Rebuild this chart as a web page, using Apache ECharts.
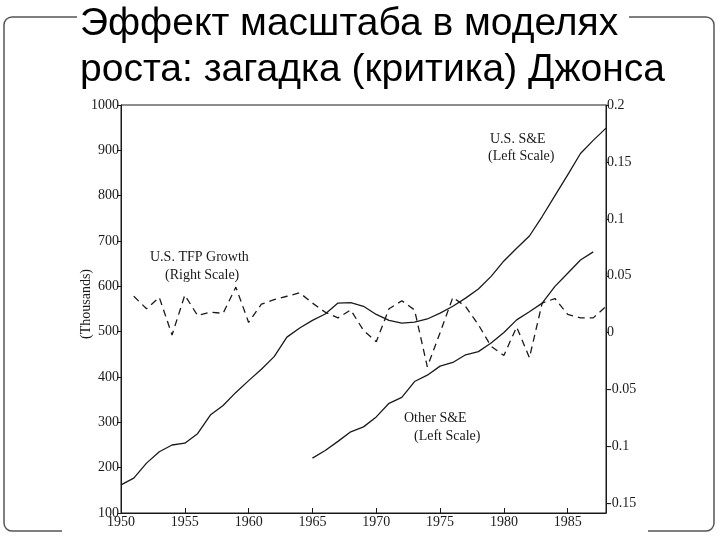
<!DOCTYPE html>
<html>
<head>
<meta charset="utf-8">
<script src="https://cdn.jsdelivr.net/npm/echarts@6/dist/echarts.min.js"></script>
<style>html,body{margin:0;padding:0;background:#fff}#c{width:720px;height:540px}</style>
</head>
<body>
<div id="c"></div>
<script>
// ---- data ----
var usYears = [1950,1951,1952,1953,1954,1955,1956,1957,1958,1959,1960,1961,1962,1963,1964,1965,1966,1967,1968,1969,1970,1971,1972,1973,1974,1975,1976,1977,1978,1979,1980,1981,1982,1983,1984,1985,1986,1987,1988];
var usSE = [162,177,210,235,250,254,275,316,337,366,392,417,445,488,508,525,539,563,564,556,538,525,519,521,528,541,556,574,594,622,656,684,711,754,800,846,893,922,949];
var otherYears = [1965,1966,1967,1968,1969,1970,1971,1972,1973,1974,1975,1976,1977,1978,1979,1980,1981,1982,1983,1984,1985,1986,1987];
var otherSE = [221,238,258,279,290,312,342,355,390,404,424,432,449,456,475,498,526,544,563,600,629,658,676];
var tfpYears = [1951,1952,1953,1954,1955,1956,1957,1958,1959,1960,1961,1962,1963,1964,1965,1966,1967,1968,1969,1970,1971,1972,1973,1974,1975,1976,1977,1978,1979,1980,1981,1982,1983,1984,1985,1986,1987,1988];
var tfpGrowth = [0.032,0.021,0.031,-0.002,0.033,0.015,0.018,0.017,0.040,0.009,0.025,0.029,0.032,0.035,0.026,0.018,0.013,0.020,0.002,-0.008,0.021,0.028,0.020,-0.030,0.000,0.031,0.023,0.007,-0.012,-0.020,0.005,-0.022,0.026,0.030,0.016,0.013,0.013,0.023];
var xTicks = [1950,1955,1960,1965,1970,1975,1980,1985];
var rightTicks = [-0.15,-0.1,-0.05,0,0.05,0.1,0.15,0.2];
var titleLines = ['Эффект масштаба в моделях', 'роста: загадка (критика) Джонса'];

function pairs(xs, ys){ return xs.map(function(x,i){ return [x, ys[i]]; }); }

var serif = 'Liberation Serif';
var ink = '#1a1a1a';
var chart = echarts.init(document.getElementById('c'), null, {renderer:'canvas'});
chart.setOption({
  backgroundColor: '#fff',
  animation: false,
  grid: {left:121, right:114, top:105, bottom:27, show:true, borderColor:ink, borderWidth:1, backgroundColor:'transparent'},
  xAxis: {
    type:'value', min:1950, max:1988,
    axisLine:{show:true, onZero:false, lineStyle:{color:ink, width:1}},
    axisTick:{show:true, inside:true, length:5, customValues:xTicks, lineStyle:{color:ink}},
    axisLabel:{customValues:xTicks, margin:2, fontFamily:serif, fontSize:14, color:ink,
      formatter:function(v){ return String(v); }},
    splitLine:{show:false}
  },
  yAxis: [{
    type:'value', min:100, max:1000, interval:100, position:'left',
    axisLine:{show:true, onZero:false, lineStyle:{color:ink, width:1}},
    axisTick:{show:true, length:4, lineStyle:{color:ink}},
    axisLabel:{margin:2, fontFamily:serif, fontSize:14, color:ink,
      formatter:function(v){ return String(v); }},
    splitLine:{show:false}
  },{
    type:'value', min:-0.1584, max:0.2, position:'right',
    axisLine:{show:true, onZero:false, lineStyle:{color:ink, width:1}},
    axisTick:{show:true, length:3, customValues:rightTicks, lineStyle:{color:ink}},
    axisLabel:{customValues:rightTicks, margin:1, fontFamily:serif, fontSize:14, color:ink,
      formatter:function(v){ return String(Math.round(v*100)/100); }},
    splitLine:{show:false}
  }],
  series: [
    {name:'U.S. S&E', type:'line', xAxisIndex:0, yAxisIndex:0, data:pairs(usYears, usSE), symbol:'none',
     lineStyle:{color:ink, width:1.3}, z:3},
    {name:'Other S&E', type:'line', xAxisIndex:0, yAxisIndex:0, data:pairs(otherYears, otherSE), symbol:'none',
     lineStyle:{color:ink, width:1.3}, z:3},
    {name:'U.S. TFP Growth', type:'line', xAxisIndex:0, yAxisIndex:1, data:pairs(tfpYears, tfpGrowth), symbol:'none',
     lineStyle:{color:ink, width:1.3, type:[7,5]}, z:2}
  ],
  graphic: [
    {type:'rect', z:-10, shape:{x:4, y:17, width:710, height:514, r:8}, style:{fill:'none', stroke:'#555', lineWidth:1.5}, silent:true},
    {type:'rect', z:-9, shape:{x:77, y:10, width:552, height:14}, style:{fill:'#fff'}, silent:true},
    {type:'rect', z:-9, shape:{x:62, y:524, width:586, height:14}, style:{fill:'#fff'}, silent:true},
    {type:'text', z:10, left:80, top:1, style:{text:titleLines.join('\n'), font:'39px "Liberation Sans"', fill:'#000', lineHeight:46}},
    {type:'text', z:10, style:{x:490, y:132, text:'U.S. S&E', font:'14px "Liberation Serif"', fill:ink}},
    {type:'text', z:10, style:{x:488, y:149, text:'(Left Scale)', font:'14px "Liberation Serif"', fill:ink}},
    {type:'text', z:10, style:{x:150, y:250, text:'U.S. TFP Growth', font:'14px "Liberation Serif"', fill:ink}},
    {type:'text', z:10, style:{x:165, y:268, text:'(Right Scale)', font:'14px "Liberation Serif"', fill:ink}},
    {type:'text', z:10, style:{x:404, y:411, text:'Other S&E', font:'14px "Liberation Serif"', fill:ink}},
    {type:'text', z:10, style:{x:414, y:429, text:'(Left Scale)', font:'14px "Liberation Serif"', fill:ink}},
    {type:'text', z:10, x:79, y:304, rotation:Math.PI/2, style:{text:'(Thousands)', font:'14px "Liberation Serif"', fill:ink, align:'center', verticalAlign:'top'}}
  ]
});
</script>
</body>
</html>
